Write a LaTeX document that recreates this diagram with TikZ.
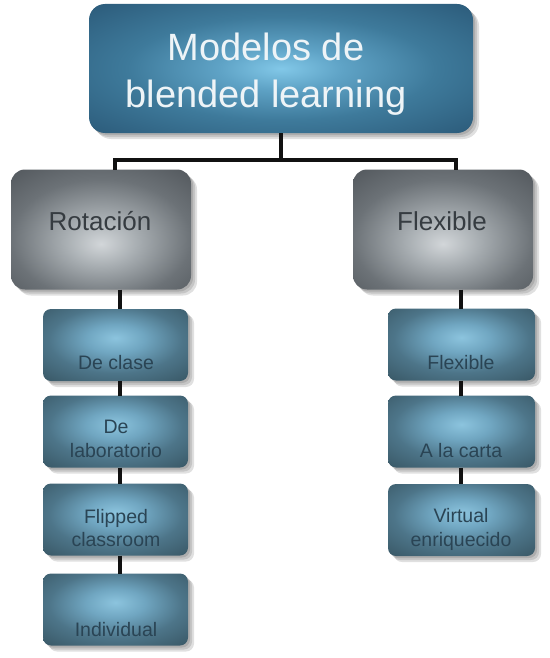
\documentclass[tikz,border=0pt]{standalone}
\usepackage{fontspec}
\setmainfont{Liberation Sans}
\usetikzlibrary{shadows,calc}
\definecolor{tg0}{HTML}{82C8E8}
\definecolor{tg1}{HTML}{5FA3C6}
\definecolor{tg2}{HTML}{3E7A9B}
\definecolor{tg3}{HTML}{2A5877}
\definecolor{tg4}{HTML}{1F4258}
\definecolor{gy0}{HTML}{D2D6D9}
\definecolor{gy1}{HTML}{A8AEB2}
\definecolor{gy2}{HTML}{6C7277}
\definecolor{gy3}{HTML}{4A4F54}
\definecolor{gy4}{HTML}{3E4347}
\definecolor{sm0}{HTML}{8CC4DE}
\definecolor{sm1}{HTML}{70A6C1}
\definecolor{sm2}{HTML}{4D7589}
\definecolor{sm3}{HTML}{35525F}
\definecolor{sm4}{HTML}{2C4550}
\definecolor{toptext}{HTML}{EEF4F7}
\definecolor{graytext}{HTML}{363C41}
\definecolor{smalltext}{HTML}{2A4454}
\definecolor{connc}{HTML}{111111}
\pgfdeclareradialshading{topglow}{\pgfpoint{0bp}{0bp}}{color(0bp)=(tg0); color(8bp)=(tg1); color(20bp)=(tg2); color(37bp)=(tg3); color(52bp)=(tg4); color(75bp)=(tg4)}
\pgfdeclareradialshading{grayglow}{\pgfpoint{0bp}{-6bp}}{color(0bp)=(gy0); color(10bp)=(gy1); color(25bp)=(gy2); color(42bp)=(gy3); color(75bp)=(gy4)}
\pgfdeclareradialshading{smallglow}{\pgfpoint{0bp}{5bp}}{color(0bp)=(sm0); color(10bp)=(sm1); color(23bp)=(sm2); color(40bp)=(sm3); color(75bp)=(sm4)}
\tikzset{
  shsoft/.style={drop shadow={shadow xshift=#1, shadow yshift=-#1, opacity=0.12, fill=black}},
  boxbase/.style={inner sep=0pt, outer sep=0pt, draw=none, shsoft=2pt, shsoft=4pt, shsoft=6pt},
  topbox/.style={boxbase, rounded corners=16pt, shading=topglow, minimum width=384pt, minimum height=129pt},
  graybox/.style={boxbase, rounded corners=14pt, shading=grayglow, minimum width=180pt, minimum height=120pt},
  smallbox/.style={boxbase, rounded corners=8pt, shading=smallglow, minimum height=72pt},
  lbox/.style={smallbox, minimum width=145pt},
  rbox/.style={smallbox, minimum width=147pt},
  toptxt/.style={anchor=base, inner sep=0pt, text=toptext, font=\fontsize{38}{47}\selectfont},
  graytxt/.style={anchor=base, inner sep=0pt, text=graytext, font=\fontsize{26}{31}\selectfont},
  smalltxt/.style={anchor=base, inner sep=0pt, text=smalltext, font=\fontsize{19.5}{24}\selectfont},
  conn/.style={draw=connc, line width=3.2pt, line join=miter}
}
\begin{document}
\begin{tikzpicture}[x=1pt,y=-1pt]
\useasboundingbox (0,0) rectangle (549,658);
% boxes
\node[topbox] (top) at (281,68.5) {};
\node[graybox] (rot) at (101,229.5) {};
\node[graybox] (flx) at (443,229.5) {};
\node[lbox] (l1) at (115.5,345) {};
\node[lbox] (l2) at (115.5,431.5) {};
\node[lbox] (l3) at (115.5,519.5) {};
\node[lbox] (l4) at (115.5,609.5) {};
\node[rbox] (r1) at (461.5,344.5) {};
\node[rbox] (r2) at (461.5,431.5) {};
\node[rbox] (r3) at (461.5,520) {};
% connector guides
\coordinate (hbar) at (0,160);
\coordinate (ldrop) at (115,0);
\coordinate (rdrop) at (456,0);
\coordinate (lstem) at (120,0);
\coordinate (rstem) at (461,0);
% connectors
\draw[conn] (top.south) -- (top.south |- hbar);
\draw[conn] (ldrop |- rot.north) |- (rdrop |- hbar) -- (rdrop |- flx.north);
\draw[conn] (lstem |- rot.south) -- (lstem |- l1.north);
\draw[conn] (lstem |- l1.south) -- (lstem |- l2.north);
\draw[conn] (lstem |- l2.south) -- (lstem |- l3.north);
\draw[conn] (lstem |- l3.south) -- (lstem |- l4.north);
\draw[conn] (rstem |- flx.south) -- (rstem |- r1.north);
\draw[conn] (rstem |- r1.south) -- (rstem |- r2.north);
\draw[conn] (rstem |- r2.south) -- (rstem |- r3.north);
% texts
\node[toptxt] (t1) at (266,61) {Modelos de};
\node[toptxt] (t2) at (266,108) {blended learning};
\node[graytxt] (trot) at (100,230) {Rotación};
\node[graytxt] (tflx) at (442,230) {Flexible};
\node[smalltxt] (tl1) at (116,369) {De clase};
\node[smalltxt] (tl2a) at (116,433) {De};
\node[smalltxt] (tl2b) at (116,457) {laboratorio};
\node[smalltxt] (tl3a) at (116,523) {Flipped};
\node[smalltxt] (tl3b) at (116,546) {classroom};
\node[smalltxt] (tl4) at (116,636) {Individual};
\node[smalltxt] (tr1) at (461,369) {Flexible};
\node[smalltxt] (tr2) at (461,457) {A la carta};
\node[smalltxt] (tr3a) at (461,522) {Virtual};
\node[smalltxt] (tr3b) at (461,546) {enriquecido};
\end{tikzpicture}
\end{document}
